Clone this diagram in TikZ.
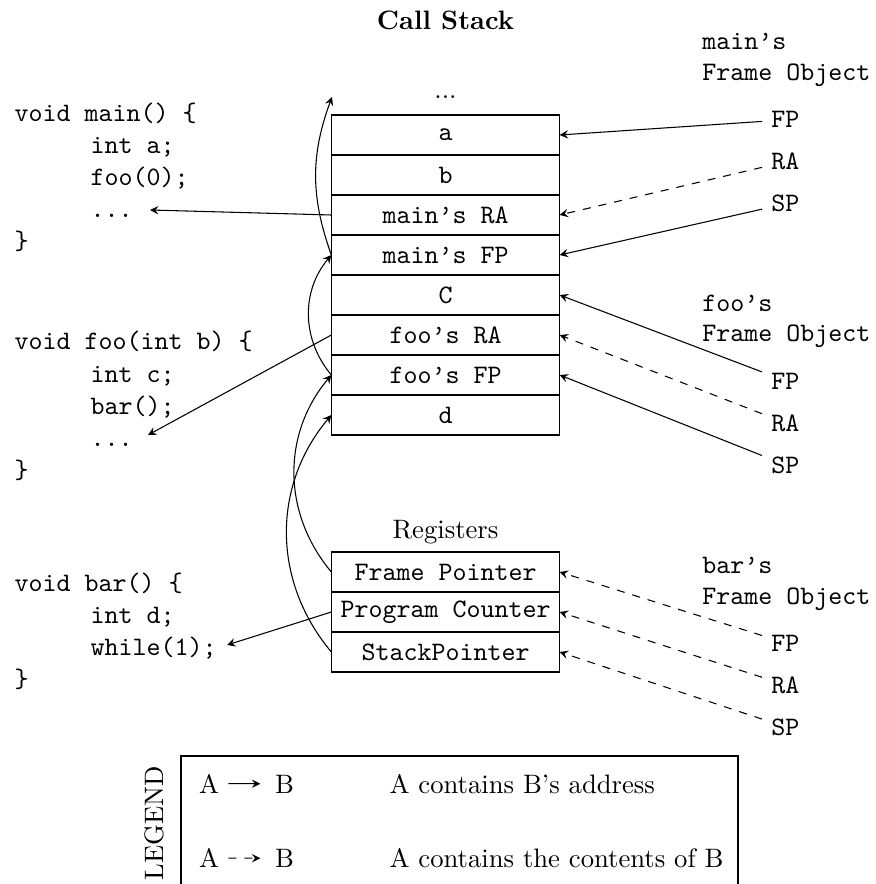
\documentclass[tikz,border=0pt]{standalone}
\usepackage{tikz}
\tikzset{
	>=stealth,
	cell/.style={draw, font=\ttfamily, minimum width=85.2pt, minimum height=15pt, inner sep=0pt},
	code/.style={font=\ttfamily, anchor=base west, inner sep=0pt},
	tag/.style={font=\ttfamily, anchor=base west},
}

\begin{document}
\begin{tikzpicture}[x=0.375pt, y=-0.375pt]
		%%%%% START %%%%%
		
		\useasboundingbox (0, 0) rectangle (875, 884);
		
		\node[font=\bfseries, anchor=base] (title) at (445.5, 30) {Call Stack};
		\node[anchor=base] (dots) at (445.5, 99) {...};
		\coordinate (prev) at (332, 97);
		
		\node[cell] (a) at (445.5, 135) {a};
		\node[cell] (b) at (445.5, 175) {b};
		\node[cell] (mainRA) at (445.5, 215) {main’s RA};
		\node[cell] (mainFP) at (445.5, 255) {main’s FP};
		\node[cell] (c) at (445.5, 295) {C};
		\node[cell] (fooRA) at (445.5, 335) {foo’s RA};
		\node[cell] (fooFP) at (445.5, 375) {foo’s FP};
		\node[cell] (d) at (445.5, 415) {d};
		
		\node[anchor=base] (regs) at (445.5, 538) {Registers};
		\node[cell] (fp) at (445.5, 572) {Frame Pointer};
		\node[cell] (pc) at (445.5, 612) {Program Counter};
		\node[cell] (sp) at (445.5, 652) {StackPointer};
		
		\node[code] (main1) at (14, 122) {void main() \{};
		\node[code] (main2) at (90, 154) {int a;};
		\node[code] (main3) at (90, 186) {foo(0);};
		\node[code] (main4) at (90, 218) {...};
		\node[code] (main5) at (14, 250) {\}};
		\coordinate (mainret) at (150, 210);
		
		\node[code] (foo1) at (14, 350) {void foo(int b) \{};
		\node[code] (foo2) at (90, 382) {int c;};
		\node[code] (foo3) at (90, 414) {bar();};
		\node[code] (foo4) at (90, 446) {...};
		\node[code] (foo5) at (14, 478) {\}};
		\coordinate (fooret) at (148, 435);
		
		\node[code] (bar1) at (14, 591) {void bar() \{};
		\node[code] (bar2) at (90, 623) {int d;};
		\node[code] (bar3) at (90, 655) {while(1);};
		\node[code] (bar4) at (14, 687) {\}};
		\coordinate (barpc) at (227, 645);
		
		\node[tag] (mainobj) at (693, 50) {main’s};
		\node[tag] (mainobjb) at (693, 81) {Frame Object};
		\node[tag] (mFP) at (762, 128) {FP};
		\node[tag] (mRA) at (762, 170) {RA};
		\node[tag] (mSP) at (762, 212) {SP};
		
		\node[tag] (fooobj) at (693, 311) {foo’s};
		\node[tag] (fooobjb) at (693, 342) {Frame Object};
		\node[tag] (fFP) at (762, 389) {FP};
		\node[tag] (fRA) at (762, 431) {RA};
		\node[tag] (fSP) at (762, 473) {SP};
		
		\node[tag] (barobj) at (693, 573) {bar’s};
		\node[tag] (barobjb) at (693, 604) {Frame Object};
		\node[tag] (bFP) at (762, 651) {FP};
		\node[tag] (bRA) at (762, 693) {RA};
		\node[tag] (bSP) at (762, 735) {SP};
		
		\draw[->] (mFP) -- (a.east);
		\draw[->, dashed] (mRA) -- (mainRA.east);
		\draw[->] (mSP) -- (mainFP.east);
		
		\draw[->] (fFP) -- (c.east);
		\draw[->, dashed] (fRA) -- (fooRA.east);
		\draw[->] (fSP) -- (fooFP.east);
		
		\draw[->, dashed] (bFP) -- (fp.east);
		\draw[->, dashed] (bRA) -- (pc.east);
		\draw[->, dashed] (bSP) -- (sp.east);
		
		\draw[->] (mainRA.west) -- (mainret);
		\draw[->] (fooRA.west) -- (fooret);
		\draw[->] (pc.west) -- (barpc);
		
		\draw[->] (mainFP.west) to[bend left=20] (prev);
		\draw[->] (fooFP.west) to[bend left=40] (mainFP.west);
		\draw[->] (fp.west) to[bend left=40] (fooFP.west);
		\draw[->] (sp.west) to[bend left=40] (d.west);
		
		\draw (181, 756) rectangle (738, 892);
		\node[rotate=90] (legend) at (154, 823) {LEGEND};
		\node[anchor=base] (la1) at (209, 793) {A};
		\node[anchor=base] (lb1) at (284.5, 793) {B};
		\draw[->, shorten >=2pt] (la1) -- (lb1);
		\node[anchor=base west, inner sep=0pt] (lt1) at (389, 793) {A contains B’s address};
		\node[anchor=base] (la2) at (209, 867.5) {A};
		\node[anchor=base] (lb2) at (284.5, 867.5) {B};
		\draw[->, dashed, shorten >=2pt] (la2) -- (lb2);
		\node[anchor=base west, inner sep=0pt] (lt2) at (389, 867.5) {A contains the contents of B};
		
		%%%%% END %%%%%
	\end{tikzpicture}
\end{document}
